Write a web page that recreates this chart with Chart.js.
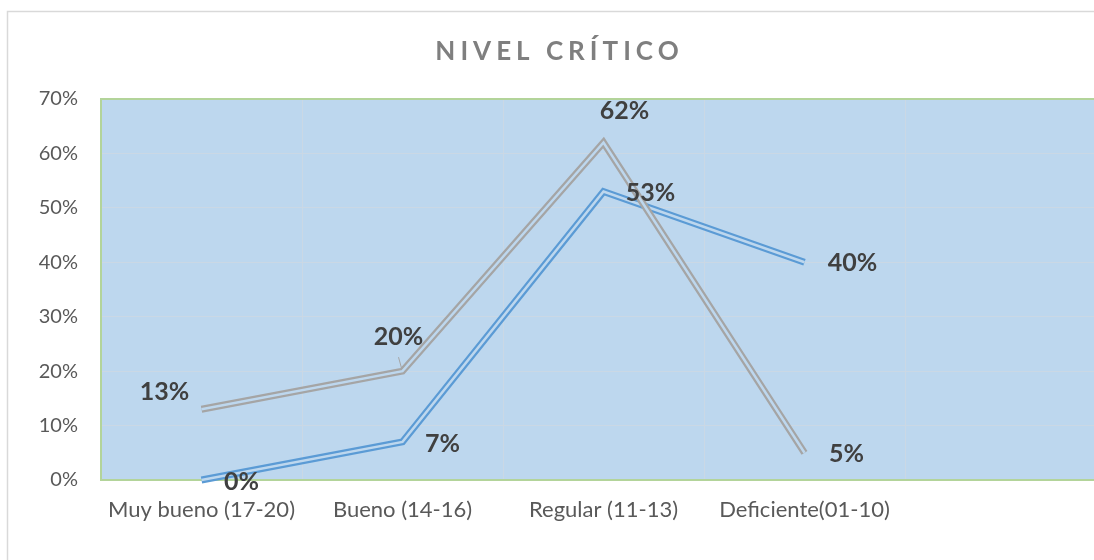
<!DOCTYPE html>
<html>
<head>
<meta charset="utf-8">
<script src="https://cdn.jsdelivr.net/npm/chart.js@4.4.1/dist/chart.umd.min.js"></script>
<style>
  html, body { margin: 0; padding: 0; background: #fff; overflow: hidden; width: 1094px; height: 560px; }
  #wrap { position: absolute; left: 0; top: 0; width: 1120px; height: 560px; }
</style>
</head>
<body>
<div id="wrap"><canvas id="c" width="1120" height="560"></canvas></div>
<script>
// ---- data ----
const TITLE = 'NIVEL CRÍTICO';
const categories = ['Muy bueno (17-20)', 'Bueno (14-16)', 'Regular (11-13)', 'Deficiente(01-10)', ''];
const seriesGray = [13, 20, 62, 5];
const seriesBlue = [0, 7, 53, 40];
const yTicks = [0, 10, 20, 30, 40, 50, 60, 70];

// ---- styles ----
const PLOT_BG = '#BDD7EE';
const GRAY = '#A5A5A5';
const BLUE = '#5B9BD5';
const FONT = 'Lato, "Open Sans", sans-serif';
// label offsets (px) relative to each point, per series
const grayLabelOffsets = [[-37, -17], [-4, -34], [21, -32], [42, 1]];
const blueLabelOffsets = [[40, 2], [40, 2], [47, 1], [48, 1]];

const bgPlugin = {
  id: 'bg',
  beforeDraw(chart) {
    const { ctx, chartArea: a } = chart;
    ctx.save();
    // outer frame
    ctx.strokeStyle = '#D9D9D9';
    ctx.lineWidth = 1.5;
    ctx.strokeRect(7.5, 11.5, 1102, 600);
    // plot background
    ctx.fillStyle = PLOT_BG;
    ctx.fillRect(a.left, a.top, a.right - a.left, a.bottom - a.top);
    ctx.restore();
  },
  beforeDatasetsDraw(chart) {
    const { ctx, chartArea: a } = chart;
    ctx.save();
    ctx.strokeStyle = '#B3D49A';
    ctx.lineWidth = 2;
    ctx.strokeRect(a.left, a.top, a.right - a.left, a.bottom - a.top);
    ctx.restore();
  },
  afterDraw(chart) {
    const { ctx } = chart;
    ctx.save();
    // title
    ctx.font = 'bold 26px ' + FONT;
    ctx.fillStyle = '#7F7F7F';
    ctx.textBaseline = 'middle';
    ctx.textAlign = 'left';
    const sp = 5;
    try { ctx.letterSpacing = sp + 'px'; } catch (e) {}
    const w = ctx.measureText(TITLE).width - sp;
    ctx.fillText(TITLE, 557 - w / 2, 52);
    try { ctx.letterSpacing = '0px'; } catch (e) {}
    // data labels
    ctx.font = 'bold 25px ' + FONT;
    ctx.fillStyle = '#404040';
    ctx.textAlign = 'center';
    const draw = (dsIndex, values, offs) => {
      const meta = chart.getDatasetMeta(dsIndex);
      values.forEach((v, i) => {
        const p = meta.data[i];
        if (!p) return;
        ctx.fillText(v + '%', p.x + offs[i][0], p.y + offs[i][1]);
      });
    };
    draw(0, seriesGray, grayLabelOffsets);
    draw(2, seriesBlue, blueLabelOffsets);
    // leader line for 20%
    const m = chart.getDatasetMeta(0).data[1];
    ctx.strokeStyle = GRAY;
    ctx.lineWidth = 1;
    ctx.beginPath();
    ctx.moveTo(m.x - 4, m.y - 14);
    ctx.lineTo(m.x - 1, m.y - 3);
    ctx.stroke();
    ctx.restore();
  }
};

const lineDs = (data, color, width, order) => ({
  data, borderColor: color, borderWidth: width, pointRadius: 0, pointHoverRadius: 0, order,
  fill: false, tension: 0, borderCapStyle: 'butt', borderJoinStyle: 'miter', clip: false
});

new Chart(document.getElementById('c'), {
  type: 'line',
  data: {
    labels: categories,
    datasets: [
      lineDs(seriesGray, GRAY, 7, 2),
      lineDs(seriesGray, PLOT_BG, 2.5, 1),
      lineDs(seriesBlue, BLUE, 7, 4),
      lineDs(seriesBlue, PLOT_BG, 2.5, 3)
    ]
  },
  options: {
    responsive: false,
    animation: false,
    layout: { padding: { left: 0, top: 99, right: 14, bottom: 0 } },
    plugins: { legend: { display: false }, tooltip: { enabled: false }, title: { display: false } },
    scales: {
      x: {
        offset: true,
        grid: { offset: true, color: '#CAD8E5', lineWidth: 1, drawTicks: false },
        border: { display: false },
        ticks: { color: '#595959', font: { family: FONT, size: 22 }, padding: 17, maxRotation: 0, autoSkip: false },
        afterFit(s) { s.height = 80; }
      },
      y: {
        min: 0, max: 70,
        afterBuildTicks(s) { s.ticks = yTicks.map(v => ({ value: v })); },
        grid: { color: '#CAD8E5', lineWidth: 1, drawTicks: false },
        border: { display: false },
        ticks: { color: '#595959', font: { family: FONT, size: 20 }, padding: 23, callback: v => v + '%' },
        afterFit(s) { s.width = 101; }
      }
    }
  },
  plugins: [bgPlugin]
});
</script>
</body>
</html>
